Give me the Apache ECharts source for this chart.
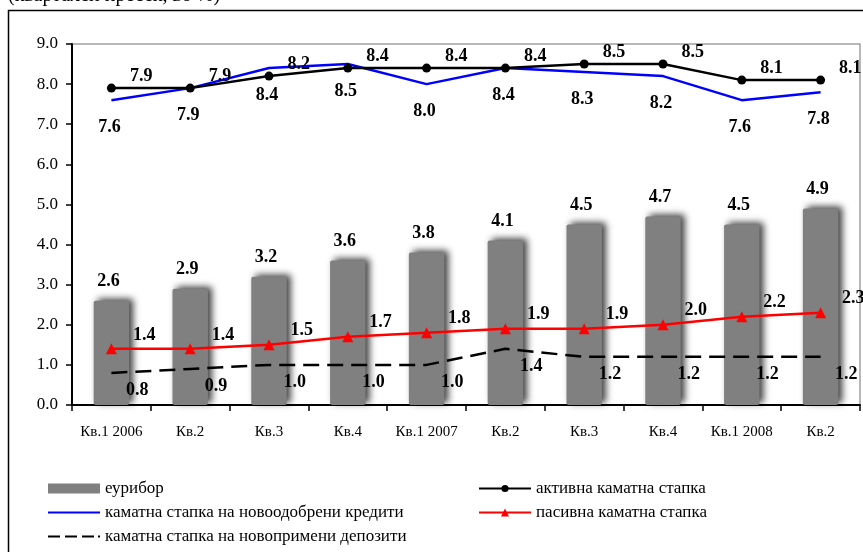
<!DOCTYPE html>
<html>
<head>
<meta charset="utf-8">
<script src="https://cdn.jsdelivr.net/npm/echarts@6/dist/echarts.min.js"></script>
<style>
  html, body { margin: 0; padding: 0; background: #fff; }
  #chart { width: 863px; height: 552px; }
</style>
</head>
<body>
<div id="chart"></div>
<script>
// Quarters 2006 – Q2 2008
const categories = ['Кв.1 2006', 'Кв.2', 'Кв.3', 'Кв.4', 'Кв.1 2007', 'Кв.2', 'Кв.3', 'Кв.4', 'Кв.1 2008', 'Кв.2'];

const euribor      = [2.6, 2.9, 3.2, 3.6, 3.8, 4.1, 4.5, 4.7, 4.5, 4.9];
const activeRate   = [7.9, 7.9, 8.2, 8.4, 8.4, 8.4, 8.5, 8.5, 8.1, 8.1];
const newLoanRate  = [7.6, 7.9, 8.4, 8.5, 8.0, 8.4, 8.3, 8.2, 7.6, 7.8];
const passiveRate  = [1.4, 1.4, 1.5, 1.7, 1.8, 1.9, 1.9, 2.0, 2.2, 2.3];
const newDepRate   = [0.8, 0.9, 1.0, 1.0, 1.0, 1.4, 1.2, 1.2, 1.2, 1.2];

const names = {
  euribor: 'еурибор',
  active: 'активна каматна стапка',
  newLoan: 'каматна стапка на новоодобрени кредити',
  passive: 'пасивна каматна стапка',
  newDep: 'каматна стапка на новопримени депозити'
};

const SERIF = '"Liberation Serif", "DejaVu Serif", serif';
const fmt = p => p.value.toFixed(1);
const valLabel = (extra) => Object.assign({
  show: true,
  formatter: fmt,
  fontFamily: SERIF,
  fontWeight: 'bold',
  fontSize: 18,
  color: '#000'
}, extra);

// one legend entry per block so each row can sit where it belongs
function legendItem(name, left, top, opts) {
  return Object.assign({
    left: left, top: top,
    padding: 0,
    itemWidth: 52, itemHeight: 10,
    selectedMode: false,
    textStyle: { fontFamily: SERIF, fontSize: 17, color: '#000' },
    data: [name]
  }, opts);
}

const chart = echarts.init(document.getElementById('chart'), null, { renderer: 'canvas' });

chart.setOption({
  animation: false,
  backgroundColor: '#fff',
  graphic: [
    {
      type: 'rect',
      shape: { x: 8.5, y: 10.5, width: 900, height: 600 },
      style: { fill: 'none', stroke: '#000', lineWidth: 1.5 },
      z: -10
    },
    {
      type: 'text',
      left: 8,
      top: -14,
      style: { text: '(квартален пресек, во %)', font: '20px ' + SERIF, fill: '#000' }
    }
  ],
  grid: {
    left: 72, top: 44, right: 3, bottom: 147,
    show: true, borderColor: '#a0a0a0', borderWidth: 1.5
  },
  legend: [
    legendItem(names.euribor, 48, 480, { icon: 'rect' }),
    legendItem(names.newLoan, 48, 504, {
      data: [{ name: names.newLoan, icon: 'path://M0,4H52V6H0Z' }],
      itemStyle: { color: '#0000ff' }
    }),
    legendItem(names.newDep, 48, 528, {
      data: [{ name: names.newDep, icon: 'path://M0,4H12V6H0Z M17,4H29V6H17Z M34,4H46V6H34Z M50,4H52V6H50Z' }],
      itemStyle: { color: '#000' }
    }),
    legendItem(names.active, 478, 480, { itemHeight: 9 }),
    legendItem(names.passive, 478, 504)
  ],
  xAxis: {
    type: 'category',
    data: categories,
    boundaryGap: true,
    axisLine: { lineStyle: { color: '#000', width: 2 } },
    axisTick: { show: true, length: 6, lineStyle: { color: '#000', width: 1.5 } },
    axisLabel: { fontFamily: SERIF, fontSize: 15, color: '#000', margin: 20, interval: 0 }
  },
  yAxis: {
    type: 'value',
    min: 0, max: 9, interval: 1,
    axisLine: { show: true, lineStyle: { color: '#000', width: 2 } },
    axisTick: { show: true, length: 6, lineStyle: { color: '#000', width: 1.5 } },
    splitLine: { show: false },
    axisLabel: { fontFamily: SERIF, fontSize: 17, color: '#000', margin: 14, formatter: v => v.toFixed(1) }
  },
  series: [
    {
      name: names.euribor,
      type: 'bar',
      data: euribor,
      barWidth: '45%',
      z: 1,
      itemStyle: {
        color: '#808080',
        borderRadius: 2,
        shadowColor: 'rgba(0,0,0,0.75)',
        shadowBlur: 7,
        shadowOffsetX: 4,
        shadowOffsetY: -2
      },
      label: valLabel({ position: 'top', distance: 10, offset: [-3, 0] })
    },
    {
      name: names.newDep,
      type: 'line',
      data: newDepRate,
      symbol: 'circle',
      symbolSize: 1,
      z: 3,
      lineStyle: { color: '#000', width: 2.5, type: [16, 8] },
      itemStyle: { color: 'rgba(0,0,0,0)' },
      label: valLabel({ position: 'right', distance: 14, offset: [0, 17] })
    },
    {
      name: names.passive,
      type: 'line',
      data: passiveRate,
      symbol: 'triangle',
      symbolSize: 11,
      z: 4,
      lineStyle: { color: '#ff0000', width: 2.5 },
      itemStyle: { color: '#ff0000' },
      label: valLabel({ position: 'right', distance: 16, offset: [0, -14] })
    },
    {
      name: names.newLoan,
      type: 'line',
      data: newLoanRate,
      symbol: 'circle',
      symbolSize: 1,
      z: 4,
      lineStyle: { color: '#0000ff', width: 2.5 },
      itemStyle: { color: 'rgba(0,0,0,0)' },
      label: valLabel({ position: 'bottom', distance: 18, offset: [-2, 0] })
    },
    {
      name: names.active,
      type: 'line',
      data: activeRate,
      symbol: 'circle',
      symbolSize: 9,
      z: 5,
      lineStyle: { color: '#000', width: 2.5 },
      itemStyle: { color: '#000' },
      label: valLabel({ position: 'right', distance: 14, offset: [0, -12] })
    }
  ]
});
</script>
</body>
</html>
